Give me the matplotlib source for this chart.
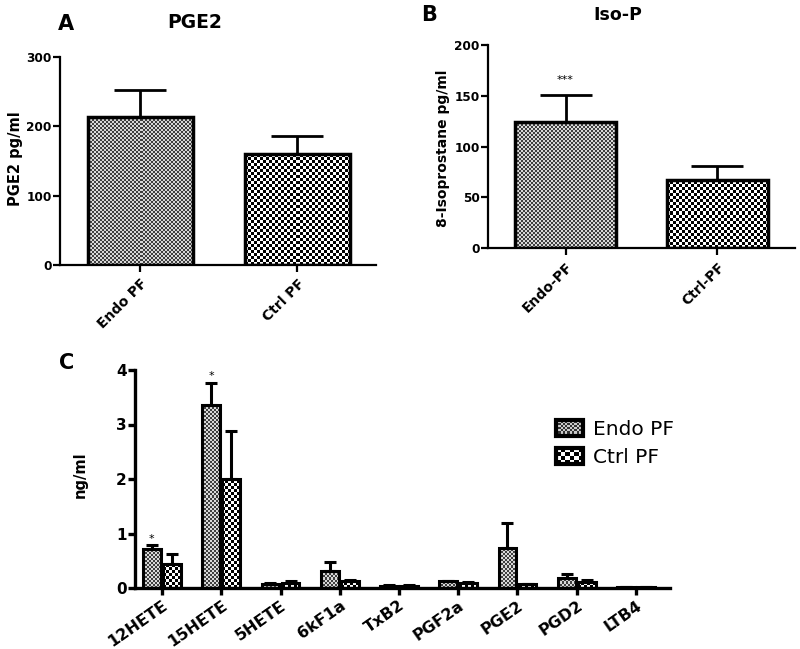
import numpy as np
import matplotlib
matplotlib.use("Agg")
import matplotlib.pyplot as plt
from matplotlib.patches import Patch, Rectangle
from matplotlib.legend_handler import HandlerBase

plt.rcParams["font.family"] = ["DejaVu Sans"]
plt.rcParams["font.weight"] = "bold"

# Panel A: PGE2
a_groups = ["Endo PF", "Ctrl PF"]
a_means = [213, 160]
a_err = [40, 26]

# Panel B: 8-isoprostane
b_groups = ["Endo-PF", "Ctrl-PF"]
b_means = [124, 67]
b_err = [27, 14]

# Panel C: eicosanoid panel
c_labels = ["12HETE", "15HETE", "5HETE", "6kF1a", "TxB2", "PGF2a", "PGE2", "PGD2", "LTB4"]
c_endo = [0.71, 3.36, 0.08, 0.32, 0.04, 0.12, 0.74, 0.19, 0.01]
c_endo_err = [0.07, 0.40, 0.01, 0.16, 0.01, 0.01, 0.46, 0.06, 0.0]
c_ctrl = [0.44, 2.00, 0.10, 0.12, 0.04, 0.09, 0.07, 0.11, 0.01]
c_ctrl_err = [0.19, 0.88, 0.03, 0.03, 0.01, 0.02, 0.01, 0.04, 0.0]

W, H = 800, 649
fig = plt.figure(figsize=(W / 100, H / 100), dpi=100)


def px_axes(x0, y0, x1, y1):
    # pixel box (top-left origin) -> figure axes
    return fig.add_axes([x0 / W, 1 - y1 / H, (x1 - x0) / W, (y1 - y0) / H])


def checker_fill(ax, bars, cell, dark, light):
    fig.canvas.draw()
    for b in bars:
        x0, y0 = b.get_x(), b.get_y()
        x1, y1 = x0 + b.get_width(), y0 + b.get_height()
        p0 = ax.transData.transform((x0, y0))
        p1 = ax.transData.transform((x1, y1))
        nx = max(int(round(abs(p1[0] - p0[0]))), 1)
        ny = max(int(round(abs(p1[1] - p0[1]))), 1)
        jj, ii = np.meshgrid(np.arange(nx), np.arange(ny))
        pat = ((ii // cell + jj // cell) % 2).astype(float)
        img = np.where(pat > 0, light, dark)
        im = ax.imshow(img, cmap="gray", vmin=0, vmax=1, extent=(x0, x1, y0, y1),
                       origin="lower", interpolation="nearest", aspect="auto", zorder=1)
        im.set_clip_path(b)


class CheckerHandler(HandlerBase):
    def __init__(self, nx, ny, dark, light):
        super().__init__()
        self.nx, self.ny, self.dark, self.light = nx, ny, dark, light

    def create_artists(self, legend, orig_handle, xdescent, ydescent, width, height,
                       fontsize, trans):
        x0, y0 = -xdescent, -ydescent
        arts = [Rectangle((x0, y0), width, height, facecolor=self.light,
                          edgecolor="none", transform=trans)]
        cw, ch = width / self.nx, height / self.ny
        for i in range(self.nx):
            for j in range(self.ny):
                if (i + j) % 2 == 0:
                    arts.append(Rectangle((x0 + i * cw, y0 + j * ch), cw, ch,
                                          facecolor=self.dark, edgecolor="none",
                                          transform=trans))
        arts.append(Rectangle((x0, y0), width, height, facecolor="none",
                              edgecolor="black", linewidth=3, transform=trans))
        return arts


def style(ax, lw):
    for s in ["top", "right"]:
        ax.spines[s].set_visible(False)
    for s in ["left", "bottom"]:
        ax.spines[s].set_linewidth(lw)
    ax.tick_params(width=lw, length=5, direction="out")


# ---------- A ----------
axA = px_axes(60, 57, 376, 265)
xa = np.arange(len(a_groups))
barsA = axA.bar(xa, a_means, width=0.67, facecolor="none", edgecolor="black",
                linewidth=2.5, zorder=3)
axA.errorbar(xa, a_means, yerr=[np.zeros(2), a_err], fmt="none", ecolor="black",
             elinewidth=2, capsize=19, capthick=2, zorder=2)
axA.set_xlim(-0.51, 1.5)
axA.set_ylim(0, 300)
axA.set_yticks([0, 100, 200, 300])
axA.set_xticks(xa)
axA.set_xticklabels(a_groups, rotation=45, ha="right", rotation_mode="anchor", fontsize=10)
axA.tick_params(axis="y", labelsize=8.7, pad=1)
axA.set_ylabel("PGE2 pg/ml", fontsize=10.5, fontweight="bold")
axA.yaxis.set_label_coords(-0.117, 0.51)
style(axA, 1.6)
fig.text(195 / W, 1 - 22 / H, "PGE2", fontsize=13.5, fontweight="bold", ha="center", va="center")
fig.text(66 / W, 1 - 24 / H, "A", fontsize=15, fontweight="bold", ha="center", va="center")

# ---------- B ----------
axB = px_axes(488, 45, 795, 248)
xb = np.arange(len(b_groups))
barsB = axB.bar(xb, b_means, width=0.67, facecolor="none", edgecolor="black",
                linewidth=2.5, zorder=3)
axB.errorbar(xb, b_means, yerr=[np.zeros(2), b_err], fmt="none", ecolor="black",
             elinewidth=2, capsize=19, capthick=2, zorder=2)
axB.text(xb[0], b_means[0] + b_err[0] + 10, "***", ha="center", va="bottom",
         fontsize=8, fontweight="normal")
axB.set_xlim(-0.51, 1.51)
axB.set_ylim(0, 200)
axB.set_yticks([0, 50, 100, 150, 200])
axB.set_xticks(xb)
axB.set_xticklabels(b_groups, rotation=45, ha="right", rotation_mode="anchor", fontsize=10)
axB.tick_params(axis="y", labelsize=8.7, pad=1)
axB.set_ylabel("8-Isoprostane pg/ml", fontsize=10, fontweight="bold")
axB.yaxis.set_label_coords(-0.124, 0.49)
style(axB, 1.6)
fig.text(618 / W, 1 - 15 / H, "Iso-P", fontsize=12.5, fontweight="bold", ha="center", va="center")
fig.text(429 / W, 1 - 15 / H, "B", fontsize=15, fontweight="bold", ha="center", va="center")

# ---------- C ----------
axC = px_axes(135, 370, 670, 588)
xc = np.arange(len(c_labels))
off, bw = 0.17, 0.30
barsCe = axC.bar(xc - off, c_endo, width=bw, facecolor="none", edgecolor="black",
                 linewidth=2.2, zorder=3)
barsCc = axC.bar(xc + off, c_ctrl, width=bw, facecolor="none", edgecolor="black",
                 linewidth=2.2, zorder=3)
axC.errorbar(xc - off, c_endo, yerr=[np.zeros(len(xc)), c_endo_err], fmt="none",
             ecolor="black", elinewidth=2.2, capsize=4.5, capthick=2.2, zorder=2)
axC.errorbar(xc + off, c_ctrl, yerr=[np.zeros(len(xc)), c_ctrl_err], fmt="none",
             ecolor="black", elinewidth=2.2, capsize=4.5, capthick=2.2, zorder=2)
for i in [0, 1]:
    axC.text(xc[i] - off, c_endo[i] + c_endo_err[i] + 0.03, "*", ha="center", va="bottom",
             fontsize=8, fontweight="normal")
axC.set_xlim(-0.456, 8.574)
axC.set_ylim(0, 4)
axC.set_yticks([0, 1, 2, 3, 4])
axC.set_xticks(xc)
axC.set_xticklabels(c_labels, rotation=35, ha="right", va="top", rotation_mode="anchor",
                    fontsize=11.5)
axC.tick_params(axis="y", labelsize=11, pad=1)
axC.tick_params(axis="x", pad=2)
axC.set_ylabel("ng/ml", fontsize=10.5, fontweight="bold")
axC.yaxis.set_label_coords(-0.088, 0.52)
style(axC, 2.4)
fig.text(67 / W, 1 - 363 / H, "C", fontsize=15, fontweight="bold", ha="center", va="center")

handles = [Patch(label="Endo PF"), Patch(label="Ctrl PF")]
fig.legend(handles=handles, loc="upper left", bbox_to_anchor=(538 / W, 1 - 402 / H),
           frameon=False, prop={"size": 14.5, "weight": "normal"}, handlelength=1.35,
           handleheight=0.8, handletextpad=0.5, labelspacing=0.45,
           handler_map={handles[0]: CheckerHandler(12, 7, "0.2", "0.8"),
                        handles[1]: CheckerHandler(6, 4, "black", "white")})

# checkerboard textures (fine for Endo, coarse for Ctrl)
checker_fill(axA, [barsA[0]], 2, 0.25, 0.85)
checker_fill(axA, [barsA[1]], 3, 0.0, 1.0)
checker_fill(axB, [barsB[0]], 2, 0.25, 0.85)
checker_fill(axB, [barsB[1]], 3, 0.0, 1.0)
checker_fill(axC, list(barsCe), 2, 0.25, 0.85)
checker_fill(axC, list(barsCc), 3, 0.0, 1.0)
axA.set_xlim(-0.51, 1.5); axA.set_ylim(0, 300)
axB.set_xlim(-0.51, 1.51); axB.set_ylim(0, 200)
axC.set_xlim(-0.456, 8.574); axC.set_ylim(0, 4)

fig.savefig("out.png", dpi=100)
